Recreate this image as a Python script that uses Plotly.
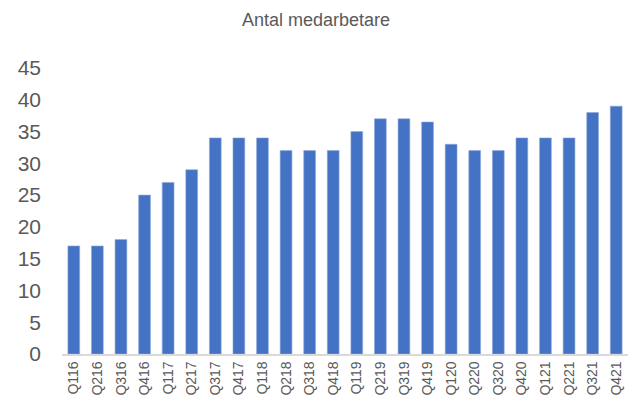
import plotly.graph_objects as go

quarters = ['Q116', 'Q216', 'Q316', 'Q416', 'Q117', 'Q217', 'Q317', 'Q417',
            'Q118', 'Q218', 'Q318', 'Q418', 'Q119', 'Q219', 'Q319', 'Q419',
            'Q120', 'Q220', 'Q320', 'Q420', 'Q121', 'Q221', 'Q321', 'Q421']
employees = [17, 17, 18, 25, 27, 29, 34, 34,
             34, 32, 32, 32, 35, 37, 37, 36.5,
             33, 32, 32, 34, 34, 34, 38, 39]

fig = go.Figure(go.Bar(
    x=quarters,
    y=employees,
    marker={'color': '#4472C4', 'line': {'color': '#8faadc', 'width': 0.6}},
    width=0.5))

fig.update_layout(
    width=632, height=401,
    margin=dict(l=62, r=4, t=68, b=47),
    paper_bgcolor='white', plot_bgcolor='white',
    font=dict(family='Liberation Sans, Arial, sans-serif', color='#595959'),
    title=dict(text='Antal medarbetare', x=0.5, xref='container', xanchor='center',
               y=1 - 20 / 401, yref='container', yanchor='middle',
               font=dict(size=18, color='#595959')),
    showlegend=False,
)
fig.update_yaxes(range=[0, 45], dtick=5, showgrid=False, zeroline=False,
                 tickfont=dict(size=21, color='#595959'), ticks='', ticklabelstandoff=20)
fig.update_xaxes(tickangle=-90, showline=True, linecolor='#d9d9d9', linewidth=1.5,
                 tickfont=dict(size=14, color='#595959'), ticks='')

# the page body has a default margin; drop it so the chart sits at 0,0
fig.write_html("out.html", config={'displayModeBar': False},
               post_script="document.body.style.margin='0';")
